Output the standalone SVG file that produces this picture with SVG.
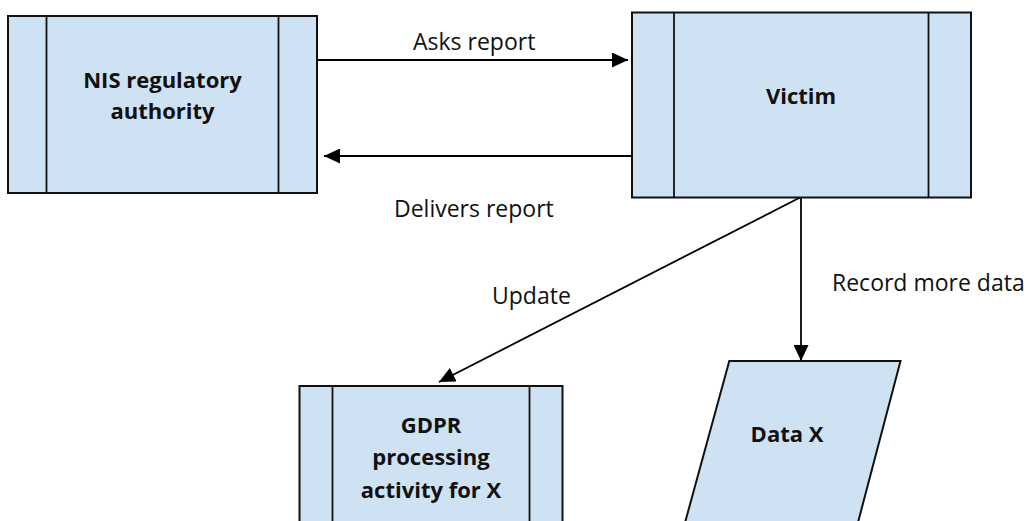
<svg xmlns="http://www.w3.org/2000/svg" width="1027" height="521" viewBox="0 0 1027 521">
<style>
.box{fill:#cfe2f3;stroke:#111;stroke-width:2}
.div{stroke:#111;stroke-width:1.8;fill:none}
.lbl{font-family:"Open Sans","Noto Sans",sans-serif;font-size:23px;fill:#111}
.nt{font-family:"Open Sans","Noto Sans",sans-serif;font-size:22px;font-weight:bold;fill:#111;text-anchor:middle}
.con{stroke:#000;stroke-width:1.8;fill:none}
</style>
<defs>
<marker id="ah" markerUnits="userSpaceOnUse" markerWidth="16" markerHeight="15" refX="16" refY="7.5" orient="auto" viewBox="0 0 16 15">
<path d="M0,0 L16,7.5 L0,15 Z" fill="#000"/>
</marker>
</defs>
<rect width="1027" height="521" fill="#fff"/>
<g id="connectors">
<line class="con" x1="317" y1="60" x2="628" y2="60" marker-end="url(#ah)"/>
<line class="con" x1="631" y1="156" x2="324" y2="156" marker-end="url(#ah)"/>
<line class="con" x1="801" y1="197" x2="439" y2="382" marker-end="url(#ah)"/>
<line class="con" x1="801" y1="197" x2="801" y2="361" marker-end="url(#ah)"/>
<text class="lbl" x="413" y="50">Asks report</text>
<text class="lbl" x="394" y="217">Delivers report</text>
<text class="lbl" x="492" y="304">Update</text>
<text class="lbl" x="832" y="291">Record more data</text>
</g>
<g id="nis">
<rect class="box" x="8" y="16" width="309" height="177"/>
<line class="div" x1="46.5" y1="16" x2="46.5" y2="193"/>
<line class="div" x1="278.5" y1="16" x2="278.5" y2="193"/>
<text class="nt" x="162.5" y="88">NIS regulatory</text>
<text class="nt" x="162.5" y="119">authority</text>
</g>
<g id="victim">
<rect class="box" x="632" y="12.5" width="339" height="185"/>
<line class="div" x1="674" y1="12.5" x2="674" y2="197.5"/>
<line class="div" x1="928.5" y1="12.5" x2="928.5" y2="197.5"/>
<text class="nt" x="801" y="104">Victim</text>
</g>
<g id="gdpr">
<rect class="box" x="299.5" y="386" width="263" height="150"/>
<line class="div" x1="332.5" y1="386" x2="332.5" y2="530"/>
<line class="div" x1="529.5" y1="386" x2="529.5" y2="530"/>
<text class="nt" x="431" y="433">GDPR</text>
<text class="nt" x="431" y="465">processing</text>
<text class="nt" x="431" y="498">activity for X</text>
</g>
<g id="datax">
<polygon class="box" points="729.3,361 900.5,361 856,530 683,530"/>
<text class="nt" x="787" y="442">Data X</text>
</g>
</svg>
